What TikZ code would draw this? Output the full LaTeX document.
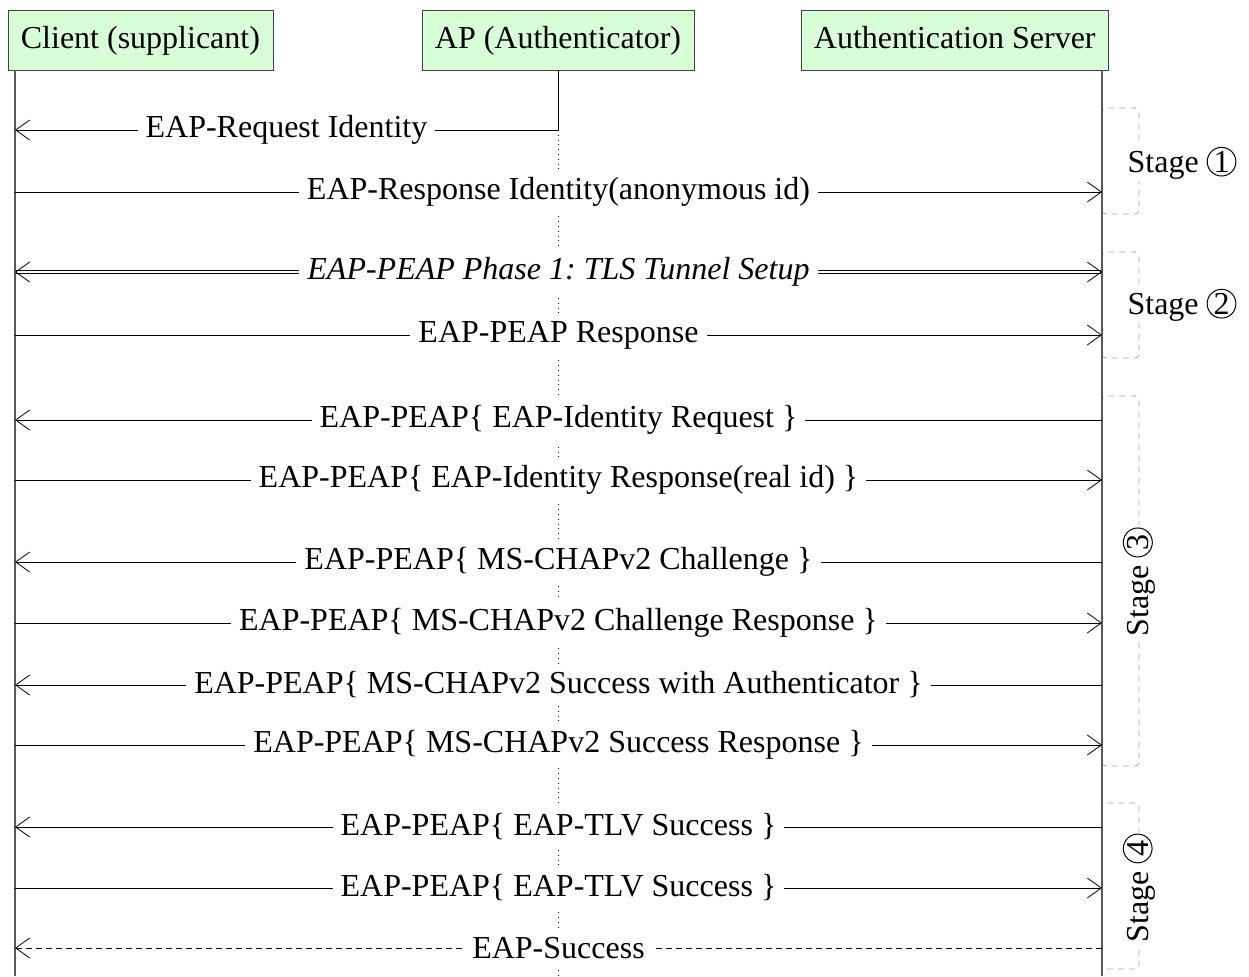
\documentclass[tikz,border=0pt]{standalone}
\usepackage{fontspec}
\setmainfont{Liberation Serif}
\usetikzlibrary{arrows.meta}
\newcommand{\stagenum}[1]{\tikz[baseline=(n.base)] \node[draw, circle, line width=0.5pt, inner sep=0.4pt, fill=none] (n) {#1};}
\tikzstyle{actor}=[draw=black!75, fill=green!15, minimum height=30pt, text height=12pt, text depth=3pt, inner xsep=6.5pt]
\tikzstyle{lifeline}=[draw=black!65, line width=0.6pt]
\tikzstyle{msg}=[-{Straight Barb[length=7pt,width=10pt]}]
\tikzstyle{dmsg}=[draw=black, double=white, double distance=1.4pt, {Straight Barb[length=7pt,width=10pt]}-{Straight Barb[length=7pt,width=10pt]}]
\tikzstyle{msglabel}=[fill=white, inner sep=4pt, midway]
\tikzstyle{stagebox}=[draw=black!35, dash pattern=on 3pt off 2.5pt, rounded corners=2pt]
\tikzstyle{stagelabel}=[fill=white, inner sep=1pt]

\begin{document}
\begin{tikzpicture}[x=0.5pt, y=-0.5pt, font=\fontsize{16}{19}\selectfont]
\useasboundingbox (0,0) rectangle (1249,976);

\node[actor, anchor=north west] (client) at (7.5,9.5) {Client (supplicant)};
\node[actor, anchor=north]      (ap)     at (558,9.5) {AP (Authenticator)};
\node[actor, anchor=north east] (server) at (1109,9.5) {Authentication Server};

\coordinate (cTop) at (15,70);
\coordinate (cEnd) at (15,976);
\coordinate (sTop) at (1102,70);
\coordinate (sEnd) at (1102,976);
\coordinate (aEnd) at (558,976);
\coordinate (a1)   at (558,130);

\foreach \i/\y in {1/130, 2/192, 3/272, 4/335, 5/420, 6/480, 7/562, 8/623, 9/685, 10/745, 11/827, 12/888, 13/948}
{
  \coordinate (c\i) at (15,\y);
  \coordinate (s\i) at (1102,\y);
}

\draw[stagebox] (1102,108) rectangle (1139,214);
\draw[stagebox] (1102,252) rectangle (1139,358);
\draw[stagebox] (1102,396) rectangle (1139,766);
\draw[stagebox] (1102,803) rectangle (1139,969);

\node[stagelabel] (stage1) at (1182,163) {Stage \stagenum{1}};
\node[stagelabel] (stage2) at (1182,305) {Stage \stagenum{2}};
\node[stagelabel, rotate=90] (stage3) at (1139,582) {Stage \stagenum{3}};
\node[stagelabel, rotate=90] (stage4) at (1139,888) {Stage \stagenum{4}};

\draw[lifeline] (cTop) -- (cEnd);
\draw[lifeline] (sTop) -- (sEnd);
\draw (ap.south) -- (a1);
\draw[dotted] (a1) -- (aEnd);

\draw[msg] (a1) -- node[msglabel] {EAP-Request Identity} (c1);
\draw[msg] (c2) -- node[msglabel] {EAP-Response Identity(anonymous id)} (s2);
\draw[dmsg] (c3) -- (s3);
\path (c3) -- node[msglabel] (tls) {\itshape EAP-PEAP Phase 1:\ TLS Tunnel Setup} (s3);
\draw[msg] (c4) -- node[msglabel] {EAP-PEAP Response} (s4);
\draw[msg] (s5) -- node[msglabel] {EAP-PEAP\{ EAP-Identity Request \}} (c5);
\draw[msg] (c6) -- node[msglabel] {EAP-PEAP\{ EAP-Identity Response(real id) \}} (s6);
\draw[msg] (s7) -- node[msglabel] {EAP-PEAP\{ MS-CHAPv2 Challenge \}} (c7);
\draw[msg] (c8) -- node[msglabel] {EAP-PEAP\{ MS-CHAPv2 Challenge Response \}} (s8);
\draw[msg] (s9) -- node[msglabel] {EAP-PEAP\{ MS-CHAPv2 Success with Authenticator \}} (c9);
\draw[msg] (c10) -- node[msglabel] {EAP-PEAP\{ MS-CHAPv2 Success Response \}} (s10);
\draw[msg] (s11) -- node[msglabel] {EAP-PEAP\{ EAP-TLV Success \}} (c11);
\draw[msg] (c12) -- node[msglabel] {EAP-PEAP\{ EAP-TLV Success \}} (s12);
\draw[msg, dash pattern=on 3pt off 2pt] (s13) -- node[msglabel] {EAP-Success} (c13);
\end{tikzpicture}
\end{document}
